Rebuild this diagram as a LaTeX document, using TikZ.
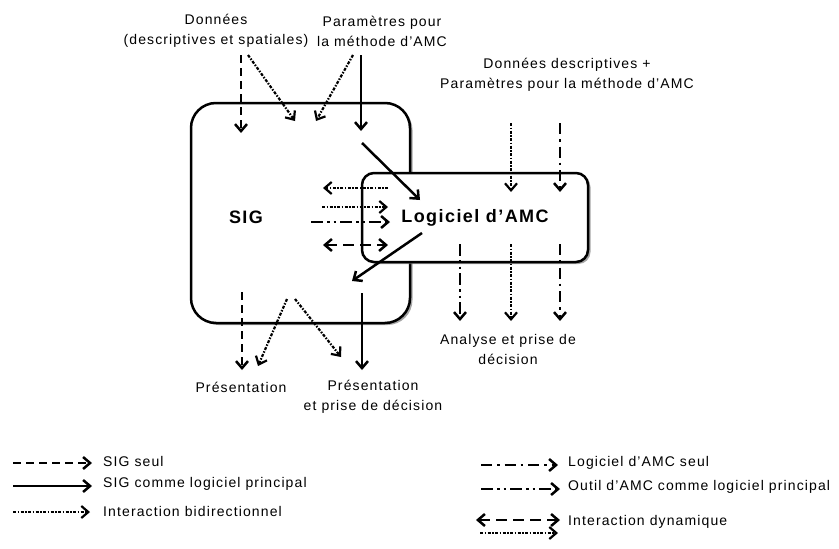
\documentclass[tikz,border=0pt]{standalone}
\usepackage{fontspec}
\setmainfont{Liberation Sans}[LetterSpace=8]
\usetikzlibrary{positioning,arrows,arrows.meta,shadows}

\tikzset{
  lbl/.style={align=center,inner sep=0pt,font=\fontsize{14}{20}\selectfont},
  titre/.style={inner sep=0pt,font=\fontsize{18}{20}\selectfont\bfseries},
  pointe/.style={Straight Barb[length=7pt,width=12pt]},
  flow/.style={line width=2.5pt,-{Straight Barb[length=7pt,width=12pt]}},
  sigseul/.style={flow,dash pattern=on 8pt off 5pt},
  sigprinc/.style={flow},
  bidir/.style={flow,line width=2.2pt,dash pattern=on 3pt off 1.5pt on 1.5pt off 1.5pt},
  amcseul/.style={flow,dash pattern=on 11pt off 5pt on 2.5pt off 5pt},
  amcprinc/.style={flow,dash pattern=on 12pt off 4pt on 2.5pt off 4pt on 2.5pt off 4pt},
  dyn/.style={flow,{Straight Barb[length=7pt,width=12pt]}-{Straight Barb[length=7pt,width=12pt]},dash pattern=on 11pt off 6pt},
  boite/.style={draw,line width=2.5pt,fill=white,
    drop shadow={shadow xshift=2.5pt,shadow yshift=-2pt,fill=gray,opacity=.7}}
}

\begin{document}
\begin{tikzpicture}[x=1pt,y=-1pt]
\useasboundingbox (0,0) rectangle (839,549);

% boxes
\node [boite,rounded corners=25pt,minimum width=219pt,minimum height=220pt] (sig) at (300.5,213) {};
\node [titre] (siglbl) at (246,217) {SIG};
\node [boite,rounded corners=12pt,minimum width=226pt,minimum height=89pt,titre] (amc) at (475,217.5) {Logiciel d’AMC};

% labels
\node [lbl] (donnees) at (216,31) {Données\\(descriptives et spatiales)};
\node [lbl] (params) at (382,31) {Paramètres pour\\la méthode d'AMC};
\node [lbl] (paramsamc) at (567,75) {Données descriptives +\\Paramètres pour la méthode d'AMC};
\node [lbl] (analyse) at (508,349) {Analyse et prise de\\décision};
\node [lbl] (pres) at (241,387) {Présentation};
\node [lbl] (presdec) at (373,397) {Présentation\\et prise de décision};

% arrow ends
\coordinate (a1) at (241,55);  \coordinate (b1) at (241,133);
\coordinate (a2) at (248,55);  \coordinate (b2) at (295,121);
\coordinate (a3) at (353,55);  \coordinate (b3) at (316,121);
\coordinate (a4) at (361,55);  \coordinate (b4) at (361,131);
\coordinate (a5) at (362,143); \coordinate (b5) at (420,200);
\coordinate (a6) at (422,233); \coordinate (b6) at (352,281);
\coordinate (a7) at (388,188); \coordinate (b7) at (323,188);
\coordinate (a8) at (322,207); \coordinate (b8) at (388,207);
\coordinate (a9) at (311,222); \coordinate (b9) at (390,222);
\coordinate (a10) at (323,245); \coordinate (b10) at (388,245);
\coordinate (a11) at (511,123); \coordinate (b11) at (511,192);
\coordinate (a12) at (560,123); \coordinate (b12) at (560,192);
\coordinate (a13) at (460,244); \coordinate (b13) at (460,321);
\coordinate (a14) at (511,244); \coordinate (b14) at (511,321);
\coordinate (a15) at (560,244); \coordinate (b15) at (560,321);
\coordinate (a16) at (242,292); \coordinate (b16) at (242,370);
\coordinate (a17) at (287,299); \coordinate (b17) at (258,366);
\coordinate (a18) at (295,299); \coordinate (b18) at (341,357);
\coordinate (a19) at (362,293); \coordinate (b19) at (362,370);

\draw [sigseul] (a1) -- (b1);
\draw [bidir] (a2) -- (b2);
\draw [bidir] (a3) -- (b3);
\draw [sigprinc] (a4) -- (b4);
\draw [sigprinc] (a5) -- (b5);
\draw [sigprinc] (a6) -- (b6);
\draw [bidir] (a7) -- (b7);
\draw [bidir] (a8) -- (b8);
\draw [amcprinc] (a9) -- (b9);
\draw [dyn] (a10) -- (b10);
\draw [bidir] (a11) -- (b11);
\draw [amcseul] (a12) -- (b12);
\draw [amcprinc] (a13) -- (b13);
\draw [bidir] (a14) -- (b14);
\draw [amcseul] (a15) -- (b15);
\draw [sigseul] (a16) -- (b16);
\draw [bidir] (a17) -- (b17);
\draw [bidir] (a18) -- (b18);
\draw [sigprinc] (a19) -- (b19);

% legend
\node [lbl,anchor=west] (l1) at (103,461) {SIG seul};
\node [lbl,anchor=west] (l2) at (103,484) {SIG comme logiciel principal};
\node [lbl,anchor=west] (l3) at (103,511) {Interaction bidirectionnel};
\node [lbl,anchor=west] (l4) at (568,463) {Logiciel d'AMC seul};
\node [lbl,anchor=west] (l5) at (568,487) {Outil d'AMC comme logiciel principal};
\node [lbl,anchor=west] (l6) at (568,522) {Interaction dynamique};

\coordinate (m1) at (13,463);  \coordinate (n1) at (92,463);
\coordinate (m2) at (13,486);  \coordinate (n2) at (92,486);
\coordinate (m3) at (13,512);  \coordinate (n3) at (90,512);
\coordinate (m4) at (481,465); \coordinate (n4) at (558,465);
\coordinate (m5) at (481,489); \coordinate (n5) at (560,489);
\coordinate (m6) at (476,520); \coordinate (n6) at (560,520);
\coordinate (m7) at (480,533); \coordinate (n7) at (558,533);

\draw [sigseul] (m1) -- (n1);
\draw [sigprinc] (m2) -- (n2);
\draw [bidir] (m3) -- (n3);
\draw [amcseul] (m4) -- (n4);
\draw [amcprinc] (m5) -- (n5);
\draw [dyn] (m6) -- (n6);
\draw [bidir] (m7) -- (n7);
\end{tikzpicture}
\end{document}
